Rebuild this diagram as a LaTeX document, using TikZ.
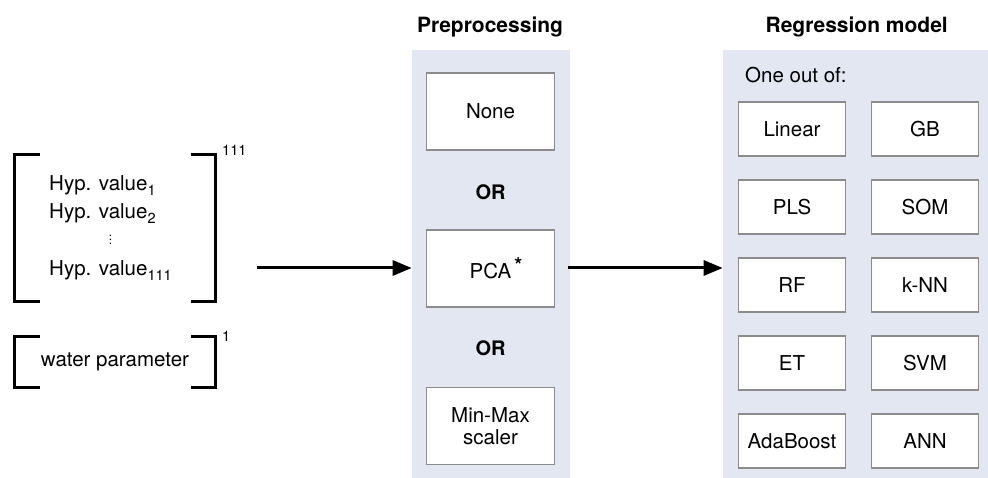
\documentclass[tikz,border=0pt]{standalone}
\usepackage{fontspec}
\setmainfont{TeX Gyre Heros}
\usetikzlibrary{arrows.meta}
\definecolor{panelbg}{RGB}{226,231,242}
\definecolor{boxline}{RGB}{140,140,140}
\newcommand\lowidx[1]{\raisebox{-5pt}{\fontsize{14.5}{16}\selectfont #1}}
\tikzset{
  panel/.style={fill=panelbg, inner sep=0pt, outer sep=0pt},
  choice/.style={draw=boxline, line width=1.5pt, fill=white, minimum width=127.6pt,
    minimum height=77pt, align=center, font=\fontsize{20.5}{22.5}\selectfont},
  model/.style={draw=boxline, line width=1.5pt, fill=white, minimum width=107pt, minimum height=54pt},
  heading/.style={font=\fontsize{21}{24}\selectfont\bfseries},
  orlbl/.style={font=\fontsize{20}{24}\selectfont\bfseries},
  brk/.style={line width=3pt},
  flow/.style={line width=3pt, -{Triangle[length=19pt,width=15pt]}},
  dimlbl/.style={anchor=west, inner sep=0pt, font=\fontsize{14.5}{16}\selectfont},
}

\begin{document}
\begin{tikzpicture}[x=1pt, y=-1pt, font=\fontsize{20.5}{24.6}\selectfont]
    \useasboundingbox (0,0) rectangle (988,478);

    % input vectors
    \node[minimum width=200pt, minimum height=146.7pt, inner sep=0pt] (hypvec) at (115,228.3) {};
    \node[anchor=west, inner sep=0pt, font=\fontsize{20.5}{28.5}\selectfont] (hyp) at (49,227.5)
        {\begin{tabular}{@{}l@{}}
            Hyp. value\lowidx{1}\\
            Hyp. value\lowidx{2}\\
            \multicolumn{1}{@{}c@{}}{\raisebox{3pt}{\fontsize{12}{12}\selectfont$\vdots$}}\\
            Hyp. value\lowidx{111}
        \end{tabular}};
    \draw[brk] ([xshift=25pt]hypvec.north west) -| (hypvec.south west) -- ++(25,0);
    \draw[brk] ([xshift=-24pt]hypvec.north east) -| (hypvec.south east) -- ++(-24,0);
    \node[dimlbl] (hypdim) at (222,150) {111};

    \node[minimum width=200pt, minimum height=50pt, inner sep=0pt] (water) at (115,362) {water parameter};
    \draw[brk] ([xshift=25pt]water.north west) -| (water.south west) -- ++(25,0);
    \draw[brk] ([xshift=-24pt]water.north east) -| (water.south east) -- ++(-24,0);
    \node[dimlbl] (waterdim) at (222,336.7) {1};

    % preprocessing
    \node[panel, minimum width=158.3pt, minimum height=428pt] (prep) at (490.85,264) {};
    \node[heading] (preptitle) at (490,27) {Preprocessing};
    \node[choice] (none) at (490.5,111.5) {None};
    \node[orlbl] (or1) at (490.5,192) {OR};
    \node[choice] (pca) at (490.5,268.5) {PCA\rlap{\hspace{3pt}\raisebox{6pt}{\bfseries *}}};
    \node[orlbl] (or2) at (490.5,348) {OR};
    \node[choice] (minmax) at (490.5,426) {Min-Max\\scaler};

    % regression models
    \node[panel, minimum width=265.3pt, minimum height=428pt] (reg) at (855.35,264) {};
    \node[heading] (regtitle) at (856.7,27) {Regression model};
    \node[anchor=west, inner sep=0pt] (oneof) at (745,75) {One out of:};
    \foreach \lft/\rgt [count=\i] in {Linear/GB, PLS/SOM, RF/k-NN, ET/SVM, AdaBoost/ANN} {
        \node[model] (lm\i) at (792,{51+78*\i}) {\lft};
        \node[model] (rm\i) at (925,{51+78*\i}) {\rgt};
    }

    % flow
    \coordinate (src) at (257,268);
    \draw[flow] (src) -- (prep.west |- src);
    \draw[flow] ([xshift=-2pt]prep.east |- src) -- (reg.west |- src);
\end{tikzpicture}
\end{document}
